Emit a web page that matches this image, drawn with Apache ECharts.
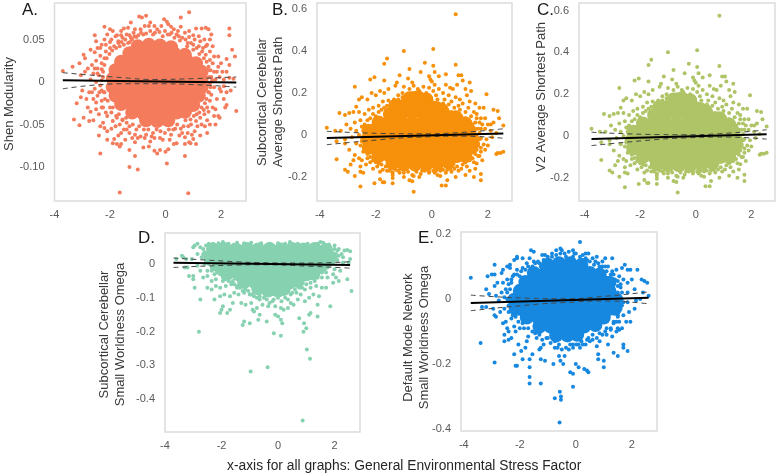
<!DOCTYPE html>
<html><head><meta charset="utf-8">
<style>html,body{margin:0;padding:0;background:#fff}#c{width:776px;height:475px}</style>
<script src="https://cdn.jsdelivr.net/npm/echarts@6/dist/echarts.min.js"></script>
</head><body><div id="c"></div>
<script>
// Panel A: Shen Modularity. Dense centre of cloud summarised by modularityCore.
const modularityCore = [
[-1.0,0.042],[-0.6,0.044],[-0.2,0.043],[0.2,0.041],[-1.3,0.034],[-0.9,0.033],[-0.5,0.034],[-0.1,0.033],[0.3,0.034],[0.7,0.032],
[-1.6,0.024],[-1.2,0.023],[-0.8,0.024],[-0.4,0.023],[0,0.024],[0.4,0.023],[0.8,0.024],[1.1,0.022],
[-1.8,0.014],[-1.4,0.013],[-1.0,0.014],[-0.6,0.013],[-0.2,0.014],[0.2,0.013],[0.6,0.014],[1.0,0.013],[1.3,0.012],
[-1.9,0.004],[-1.5,0.003],[-1.1,0.004],[-0.7,0.003],[-0.3,0.004],[0.1,0.003],[0.5,0.004],[0.9,0.003],[1.3,0.003],
[-1.9,-0.006],[-1.5,-0.007],[-1.1,-0.006],[-0.7,-0.007],[-0.3,-0.006],[0.1,-0.007],[0.5,-0.006],[0.9,-0.007],[1.3,-0.006],
[-1.8,-0.016],[-1.4,-0.017],[-1.0,-0.016],[-0.6,-0.017],[-0.2,-0.016],[0.2,-0.017],[0.6,-0.016],[1.0,-0.017],[1.2,-0.016],
[-1.6,-0.026],[-1.2,-0.027],[-0.8,-0.026],[-0.4,-0.027],[0,-0.026],[0.4,-0.027],[0.8,-0.026],[1.0,-0.027],
[-1.2,-0.036],[-0.8,-0.037],[-0.4,-0.036],[0,-0.037],[0.4,-0.036],[0.7,-0.035],
[-0.7,-0.045],[-0.3,-0.046],[0.1,-0.045]];
const modularityFringe = [
[0.85,0.082],[-0.95,0.077],[-0.85,0.076],[-0.7,0.078],[0.55,0.076],[-1.25,0.07],[-0.05,0.074],[0.05,0.071],[0.1,0.068],[-0.55,0.07],[-0.6,0.066],[-1.35,0.064],[-2.2,0.065],[-2.0,0.062],[-1.9,0.06],[-1.6,0.06],[-1.5,0.063],[-1.15,0.058],[-0.9,0.062],[-0.3,0.062],[0.3,0.062],[0.55,0.065],[0.7,0.058],[1.1,0.063],[1.3,0.063],[1.45,0.064],[1.55,0.062],[2.3,0.063],[2.3,0.055],[1.65,0.056],[1.6,0.05],[2.4,0.038],[2.5,0.03],[2.2,0.027],[1.9,0.03],
[-3.7,0.013],[-3.35,0.018],[-3.1,0.022],[-2.95,0.032],[-2.9,0.028],[-2.7,0.038],[-2.55,0.055],[-2.5,0.048],[-2.45,0.04],[-2.2,0.05],[-2.3,0.044],[-2.1,0.056],[-1.95,0.05],[-1.8,0.054],[-1.7,0.048],[-1.55,0.052],[-1.4,0.056],[-1.25,0.052],[-1.05,0.053],[-2.0,0.04],[-2.15,0.036],[-2.35,0.031],[-2.5,0.025],[-2.65,0.02],[-2.8,0.016],[-2.45,0.016],[-2.3,0.022],[-2.2,0.028],[-2.6,0.01],[-2.4,0.008],[-2.25,0.012],[-2.7,0.003],[-3.05,0.008],[-2.9,0.012],
[-1.85,0.042],[-1.65,0.042],[-1.5,0.044],[-1.35,0.046],[-0.8,0.056],[-0.45,0.056],[-0.1,0.054],[0.15,0.056],[0.4,0.056],[0.6,0.052],[0.85,0.053],[1.0,0.055],[1.2,0.054],[1.4,0.05],[0.8,0.046],[1.0,0.044],[1.2,0.042],[1.35,0.04],[1.5,0.044],[1.6,0.036],[1.45,0.032],[1.7,0.022],[1.6,0.026],[1.55,0.018],[1.75,0.012],[1.85,0.012],[2.05,0.012],[2.2,0.012],[1.65,0.006],[1.8,0.003],[1.95,0.006],[2.1,0.003],[2.3,0.005],[2.45,0.004],[1.6,-0.002],[1.75,-0.006],[1.95,-0.008],
[2.55,-0.034],[2.2,-0.027],[2.1,-0.02],[2.0,-0.011],[1.9,-0.04],[1.8,-0.05],[1.95,-0.042],[1.6,-0.05],[1.5,-0.045],[2.15,-0.03],[1.7,-0.03],[1.6,-0.022],[1.5,-0.03],[1.55,-0.012],[1.65,-0.015],[1.8,-0.032],[1.4,-0.038],[1.3,-0.03],[1.25,-0.042],[1.1,-0.046],[0.9,-0.044],[1.15,-0.052],[1.3,-0.05],
[-1.65,-0.13],[0.82,-0.131],[-1.3,-0.1],[-1.0,-0.103],[0.05,-0.096],[-1.1,-0.087],[-2.35,-0.084],[0.7,-0.087],[-0.3,-0.084],[-0.4,-0.081],[-0.2,-0.08],[0,-0.082],[0.1,-0.079],[-1.3,-0.08],[-1.65,-0.076],[-1.75,-0.073],[-1.9,-0.072],[-1.6,-0.073],[-2.4,-0.063],[-2.1,-0.068],[-1.85,-0.067],[-1.7,-0.063],[-1.6,-0.06],[-1.45,-0.068],[-1.1,-0.071],[-0.8,-0.077],[-0.6,-0.076],[-0.55,-0.07],[0.3,-0.073],[0.4,-0.072],[0.7,-0.073],[0.85,-0.071],[0.9,-0.072],[1.0,-0.067],[1.1,-0.073],[1.25,-0.063],[1.5,-0.06],[0.95,-0.062],[0.7,-0.065],[0.5,-0.063],
[-3.3,-0.044],[-3.1,-0.051],[-3.2,-0.025],[-3.05,-0.018],[-3.0,-0.01],[-2.95,-0.042],[-2.75,-0.046],[-2.6,-0.045],[-2.35,-0.052],[-2.25,-0.048],[-2.2,-0.054],[-2.1,-0.058],[-1.95,-0.055],[-1.8,-0.052],[-1.5,-0.056],[-1.3,-0.06],[-1.1,-0.062],[-0.9,-0.064],[-0.7,-0.062],[-0.4,-0.066],[-0.1,-0.068],[0.2,-0.062],[0.35,-0.055],[0.65,-0.052],
[-2.8,-0.03],[-2.7,-0.035],[-2.5,-0.032],[-2.4,-0.038],[-2.25,-0.03],[-2.1,-0.04],[-1.95,-0.036],[-1.75,-0.042],[-1.55,-0.044],[-1.4,-0.048],[-2.6,-0.02],[-2.45,-0.016],[-2.3,-0.022],[-2.2,-0.012],[-2.85,-0.02],[-2.55,-0.008],[-2.35,-0.004],[-2.75,-0.012],
[-2.25,0.006],[-2.3,0.015],[-2.2,0.02],[-2.12,0.028],[-2.02,0.033],[-1.92,0.037],[-1.78,0.04],[-1.7,0.046],[-1.58,0.047],[-1.45,0.05],[-1.28,0.047],[-1.2,0.05],[-1.12,0.054],[-0.98,0.055],[-0.88,0.058],[-0.7,0.057],[-0.55,0.06],[-0.38,0.058],[-0.22,0.059],[-0.02,0.06],[0.08,0.056],[0.22,0.058],[0.32,0.052],[0.48,0.054],[0.52,0.049],[0.72,0.05],[0.78,0.042],[0.92,0.046],[1.0,0.038],[1.12,0.04],[1.22,0.033],[1.32,0.036],[1.38,0.028],[1.48,0.024],[1.52,0.014],[1.62,0.014],[1.58,0.006],[1.68,0.002],
[1.62,-0.006],[1.56,-0.012],[1.48,-0.02],[1.42,-0.025],[1.38,-0.033],[1.22,-0.036],[1.12,-0.038],[1.02,-0.04],[0.92,-0.05],[0.82,-0.052],[0.72,-0.045],[0.55,-0.055],[0.42,-0.05],[0.28,-0.056],[0.12,-0.056],[-0.02,-0.06],[-0.18,-0.058],[-0.32,-0.056],[-0.45,-0.06],[-0.62,-0.056],[-0.78,-0.056],[-0.95,-0.052],[-1.05,-0.056],[-1.18,-0.05],[-1.3,-0.052],[-1.42,-0.042],[-1.55,-0.045],[-1.68,-0.038],[-1.78,-0.04],[-1.9,-0.03],[-2.0,-0.03],[-2.08,-0.022],[-2.18,-0.02],[-2.22,-0.012],[-2.3,-0.01],[-2.38,-0.012],[-2.3,0.002],
[-2.55,0.035],[-2.35,0.04],[-2.15,0.044],[-2.0,0.047],[-1.75,0.055],[-1.6,0.055],[-1.3,0.055],[-1.1,0.062],[-0.75,0.066],[-0.4,0.066],[-0.15,0.066],[0.2,0.065],[0.45,0.06],[0.85,0.06],[1.05,0.05],[1.25,0.048],[1.45,0.042],[1.7,0.042],[1.75,0.03],[1.9,0.018],[2.0,0.022],[2.3,0.02],[2.1,-0.005],[2.2,-0.012],[2.35,-0.01],[1.85,-0.02],[1.75,-0.04],[1.55,-0.035],[1.42,-0.052],[1.05,-0.058],[0.8,-0.06],[0.6,-0.06],[0.15,-0.068],[-0.2,-0.066],[-0.5,-0.064],[-0.75,-0.066],[-1.0,-0.066],[-1.2,-0.066],[-1.4,-0.056],[-1.65,-0.05],[-1.9,-0.046],[-2.15,-0.036],[-2.3,-0.03],[-2.5,-0.024],[-2.65,-0.012],[-2.5,0.0],[-2.45,0.01],[-2.55,0.016]];
const modularityFit = [[-3.7,0.002],[2.55,-0.0005]];
const modularityHigh = [[-3.7,0.011],[-1.5,0.005],[-0.4,0.003],[1,0.004],[2.55,0.006]];
const modularityLow = [[-3.7,-0.008],[-1.5,-0.002],[-0.4,-0.002],[1,-0.003],[2.55,-0.006]];

// Panels B and C: average shortest path. Both panels show the same cloud.
const pathCore = [
[-0.8,0.175],[-0.5,0.18],[-0.2,0.17],
[-1.3,0.14],[-1.0,0.14],[-0.6,0.15],[-0.2,0.14],[0.1,0.13],[0.35,0.12],
[-1.5,0.1],[-1.1,0.1],[-0.7,0.11],[-0.3,0.1],[0.1,0.1],[0.5,0.09],[0.85,0.085],
[-1.9,0.06],[-1.5,0.06],[-1.1,0.06],[-0.7,0.06],[-0.3,0.06],[0.1,0.06],[0.5,0.06],[0.9,0.06],[1.2,0.055],
[-2.25,0.02],[-2.1,0.02],[-1.7,0.02],[-1.3,0.02],[-0.9,0.02],[-0.5,0.02],[-0.1,0.02],[0.3,0.02],[0.7,0.02],[1.1,0.02],[1.35,0.02],
[-2.3,-0.02],[-2.15,-0.02],[-1.75,-0.02],[-1.35,-0.02],[-0.95,-0.02],[-0.55,-0.02],[-0.15,-0.02],[0.25,-0.02],[0.65,-0.02],[1.05,-0.02],[1.45,-0.02],
[-2.25,-0.06],[-2.1,-0.06],[-1.7,-0.06],[-1.3,-0.06],[-0.9,-0.06],[-0.5,-0.06],[-0.1,-0.06],[0.3,-0.06],[0.7,-0.06],[1.1,-0.06],[1.4,-0.06],
[-1.9,-0.1],[-1.5,-0.1],[-1.1,-0.1],[-0.7,-0.1],[-0.3,-0.1],[0.1,-0.1],[0.5,-0.1],[0.9,-0.1],[1.2,-0.1],
[-1.4,-0.135],[-1.0,-0.14],[-0.6,-0.14],[-0.2,-0.14],[0.2,-0.135],[0.6,-0.13]];
const pathFringe = [
[0.85,0.575],[-1.0,0.4],[0.05,0.41],[-1.6,0.365],[-1.7,0.34],[0.85,0.335],[-0.25,0.345],[0.05,0.33],[-0.8,0.315],[0.1,0.3],[-0.4,0.3],[0.5,0.29],[-1.7,0.26],[-2.05,0.275],[-2.2,0.265],[-2.75,0.23],[-1.15,0.285],[-0.85,0.27],[-1.25,0.25],[-0.7,0.25],[-0.65,0.235],[-0.1,0.28],[-0.05,0.265],[0,0.255],[0.1,0.24],[0.25,0.28],[0.5,0.24],[0.65,0.225],[0.95,0.285],[1.05,0.285],[1.1,0.26],[1.35,0.25],[1.2,0.22],[0.75,0.22],[0.9,0.24],[1.4,0.21],[1.95,0.195],[2.2,0.12],[2.35,0.115],[2.4,0.08],[2.2,0.06],[2.1,0.05],[2.55,0.045],
[-1.3,0.235],[-1.0,0.23],[-0.8,0.22],[-0.5,0.22],[-0.3,0.23],[-0.1,0.225],[0.05,0.21],[0.25,0.22],[0.4,0.2],[0.6,0.19],[0.85,0.18],[1.0,0.17],[1.25,0.19],[1.35,0.16],[1.55,0.15],[1.7,0.13],[1.85,0.13],[1.6,0.1],[1.75,0.08],[1.9,0.08],[2.0,0.05],[1.7,0.06],[1.9,0.03],[1.75,0.03],[2.1,0.02],[2.3,0.01],
[-1.55,0.22],[-1.7,0.2],[-1.85,0.21],[-2.0,0.19],[-2.15,0.2],[-2.3,0.17],[-2.5,0.18],[-2.6,0.17],[-2.7,0.135],[-2.6,0.11],[-2.8,0.11],[-2.95,0.105],[-3.1,0.095],[-3.3,0.105],[-3.05,0.05],[-3.75,0.035],[-3.45,0.02],[-3.25,0.02],[-2.9,0.03],[-2.75,0.06],[-2.55,0.07],[-2.4,0.1],[-2.25,0.12],[-2.1,0.13],[-1.9,0.14],[-1.75,0.16],[-1.55,0.165],[-1.35,0.17],[-1.2,0.19],[-1.05,0.2],[-0.85,0.195],[-0.6,0.2],[-0.4,0.19],[-0.2,0.2],[-0.05,0.18],[0.2,0.17],[0.4,0.15],[0.6,0.145],[0.8,0.13],[1.0,0.12],[1.2,0.11],[1.4,0.09],[1.55,0.06],
[-2.5,0.04],[-2.6,0.0],[-2.7,0.02],[-2.85,-0.01],[-3.1,-0.02],[-3.4,-0.03],[-3.1,-0.04],[-2.95,-0.07],[-2.7,-0.04],[-2.55,-0.05],[-2.45,-0.08],[-3.4,-0.115],[-2.75,-0.095],[-2.8,-0.12],[-2.6,-0.11],[-2.5,-0.12],[-3.1,-0.165],[-3.0,-0.175],[-2.9,-0.14],[-2.55,-0.15],[-2.55,-0.175],[-2.45,-0.18],[-2.75,-0.195],[-2.35,-0.14],[-2.3,-0.11],[-2.2,-0.13],[-2.1,-0.16],[-1.95,-0.15],[-1.85,-0.175],[-1.9,-0.135],[-1.75,-0.165],[-1.6,-0.17],[-1.4,-0.18],[-1.2,-0.17],
[-2.55,-0.245],[-0.65,-0.27],[-2.05,-0.23],[-1.85,-0.21],[-1.7,-0.225],[-1.75,-0.225],[-1.4,-0.205],[-1.4,-0.23],[-1.4,-0.19],[-1.0,-0.2],[-0.8,-0.215],[-0.7,-0.22],[-0.65,-0.195],[-0.45,-0.2],[-0.35,-0.17],[-0.1,-0.175],[0.1,-0.18],[0.2,-0.19],[0.3,-0.195],[0.35,-0.24],[0.5,-0.24],[0.55,-0.215],[0.5,-0.18],[0.7,-0.175],[0.85,-0.2],[0.95,-0.17],[1.2,-0.19],[1.35,-0.17],[1.25,-0.15],[1.5,-0.2],[1.55,-0.16],[1.6,-0.135],[1.75,-0.215],[1.75,-0.185],[1.8,-0.12],[1.9,-0.07],[2.0,-0.05],
[2.3,-0.09],[2.35,-0.085],[2.45,-0.085],[2.55,-0.08],[1.65,-0.1],[1.75,-0.08],[1.85,-0.045],[1.65,-0.05],[1.95,-0.02],[2.15,-0.01],[1.75,-0.015],
[-2.45,0.02],[-2.4,0.05],[-2.3,0.07],[-2.2,0.08],[-2.1,0.1],[-2,0.09],[-1.9,0.11],[-1.8,0.12],[-1.7,0.13],[-1.6,0.14],[-1.45,0.15],[-1.3,0.15],[-1.45,0.13],[-1.2,0.17],[-1.05,0.18],[-0.95,0.17],[-0.8,0.18],[-0.7,0.2],[-0.55,0.185],[-0.45,0.21],[-0.3,0.18],[-0.2,0.17],[-0.1,0.19],[0,0.16],[0.15,0.19],[0.25,0.15],[0.35,0.13],[0.45,0.17],[0.55,0.12],[0.7,0.16],[0.7,0.11],[0.85,0.1],[0.95,0.14],[1.05,0.09],[1.1,0.15],[1.2,0.08],[1.3,0.13],[1.35,0.06],[1.45,0.05],[1.5,0.11],[1.55,0.03],[1.65,0.03],[1.6,0.08],[1.7,0.01],[1.8,0.05],
[1.7,-0.02],[1.65,-0.04],[1.75,-0.06],[1.6,-0.07],[1.55,-0.09],[1.7,-0.1],[1.45,-0.11],[1.35,-0.12],[1.5,-0.13],[1.2,-0.13],[1.1,-0.14],[1.05,-0.16],[0.9,-0.15],[0.8,-0.16],[0.65,-0.16],[0.55,-0.165],[0.4,-0.165],[0.3,-0.17],[0.15,-0.17],[0.05,-0.17],[-0.1,-0.18],[-0.25,-0.17],[-0.4,-0.185],[-0.55,-0.175],[-0.7,-0.19],[-0.85,-0.175],[-1.0,-0.18],[-1.15,-0.18],[-1.3,-0.165],[-1.5,-0.17],[-1.65,-0.15],[-1.8,-0.14],[-2.0,-0.13],[-2.1,-0.12],[-2.2,-0.105],[-2.3,-0.09],[-2.4,-0.06],[-2.5,-0.03],[-2.45,-0.01],[-2.35,-0.05]];
const pathFit = [[-3.75,-0.014],[2.55,0.008]];
const pathHigh = [[-3.75,0.018],[-1.5,0.007],[-0.5,0.006],[1,0.012],[2.55,0.03]];
const pathLow = [[-3.75,-0.046],[-1.5,-0.018],[-0.5,-0.01],[1,-0.005],[2.55,-0.015]];

// Panel D: subcortical cerebellar omega
const omegaSubCore = [
[-2.3,0.043],[-1.9,0.045],[-1.5,0.043],[-1.1,0.045],[-0.7,0.043],[-0.3,0.045],[0.1,0.043],[0.5,0.045],[0.9,0.043],[1.3,0.045],[1.7,0.042],
[-2.4,0.02],[-2.0,0.02],[-1.6,0.02],[-1.2,0.02],[-0.8,0.02],[-0.4,0.02],[0,0.02],[0.4,0.02],[0.8,0.02],[1.2,0.02],[1.6,0.02],[1.85,0.02],
[-2.1,-0.005],[-1.7,-0.005],[-1.3,-0.005],[-0.9,-0.005],[-0.5,-0.005],[-0.1,-0.005],[0.3,-0.005],[0.7,-0.005],[1.1,-0.005],[1.5,-0.005],
[-1.8,-0.028],[-1.4,-0.03],[-1.0,-0.03],[-0.6,-0.03],[-0.2,-0.03],[0.2,-0.03],[0.6,-0.03],[1.0,-0.03],[1.25,-0.028],
[-1.2,-0.053],[-0.8,-0.055],[-0.4,-0.055],[0,-0.055],[0.4,-0.055],[0.7,-0.05],
[-0.7,-0.072],[-0.35,-0.078],[0,-0.078],[0.2,-0.074]];
const omegaSubFringe = [
[0.87,-0.463],[-0.37,-0.305],[-0.97,-0.318],[1.02,-0.253],[1.13,-0.28],[0.1,-0.212],[-0.15,-0.205],[-2.8,-0.2],[0.9,-0.2],[1.0,-0.19],[0.92,-0.175],[0.75,-0.16],[-1.25,-0.18],[-1.2,-0.17],[-1.0,-0.175],[-0.7,-0.165],[-0.4,-0.17],[-0.1,-0.15],[0,-0.155],[0.1,-0.165],[0.15,-0.175],[1.15,-0.145],[1.1,-0.15],[1.4,-0.155],[1.85,-0.125],[2.6,-0.08],[-2.75,-0.105],[-2.95,-0.07],
[-2.05,-0.145],[-1.95,-0.125],[-2.0,-0.135],[-1.8,-0.145],[-1.7,-0.135],[-1.6,-0.115],[-1.3,-0.115],[-1.15,-0.12],[-0.95,-0.115],[-0.9,-0.135],[-0.85,-0.14],[-0.75,-0.13],[-0.65,-0.15],[-0.55,-0.12],[-0.35,-0.125],[-0.2,-0.11],[-0.1,-0.125],[0.1,-0.13],[0.2,-0.135],[0.35,-0.13],[0.45,-0.115],[0.55,-0.12],[0.7,-0.105],[0.95,-0.11],[1.1,-0.1],[1.4,-0.12],[1.45,-0.095],[1.25,-0.09],[0.8,-0.09],
[-2.25,-0.105],[-2.05,-0.095],[-1.9,-0.09],[-1.7,-0.095],[-1.55,-0.085],[-1.4,-0.09],[-1.2,-0.085],[-1.0,-0.09],[-0.85,-0.085],[-0.65,-0.095],[0.45,-0.09],[0.65,-0.085],[0.95,-0.075],[1.15,-0.07],[1.35,-0.065],[1.55,-0.07],[1.7,-0.07],
[-2.5,-0.07],[-2.35,-0.075],[-2.2,-0.065],[-2.05,-0.07],[-1.85,-0.065],[-1.65,-0.06],[-1.45,-0.07],[-1.6,-0.05],[-1.95,-0.05],[-2.2,-0.045],[-2.35,-0.05],[-2.5,-0.035],[-2.65,-0.04],[-3.15,-0.035],[-3.0,-0.045],[-3.0,-0.035],[-2.75,-0.02],[-2.5,-0.02],[-2.85,-0.005],[-3.2,-0.01],[-3.05,0.015],[-3.35,0.02],[-3.6,0.015],[-3.3,-0.01],[-2.6,0.0],[-2.35,-0.02],[-2.25,-0.03],
[-3.4,0.025],[-3.25,0.015],[-3.0,0.05],[-2.95,0.055],[-2.85,0.06],[-2.75,0.05],[-2.6,0.035],[-2.85,0.03],[-2.7,0.02],[-2.55,0.055],[-2.45,0.06],[-2.3,0.06],[-2.1,0.062],[-1.95,0.065],[-1.75,0.06],[-1.45,0.063],[-1.2,0.062],[-0.95,0.063],[-0.6,0.062],[-0.3,0.06],[0,0.062],[0.25,0.06],[0.42,0.065],[0.7,0.06],[1.05,0.06],[1.4,0.06],[1.5,0.065],[1.6,0.063],[1.8,0.058],[2.0,0.055],
[2.15,0.045],[2.35,0.04],[2.45,0.042],[2.55,0.038],[2.25,0.03],[2.05,0.03],[2.3,0.02],[2.55,0.015],[2.1,0.012],[2.3,0.005],[2.5,0.005],[1.95,0.005],[1.8,-0.005],[2.0,-0.015],[2.2,-0.02],[2.45,-0.045],[2.15,-0.05],[1.95,-0.055],[1.75,-0.04],[1.55,-0.04],[1.95,-0.03],[1.7,-0.025],[2.05,-0.04],
[-2.45,0.0],[-2.35,-0.01],[-2.25,-0.015],[-2.15,-0.025],[-2.05,-0.03],[-1.95,-0.04],[-1.85,-0.045],[-1.75,-0.05],[-1.65,-0.055],[-1.55,-0.06],[-1.45,-0.065],[-1.35,-0.07],[-1.25,-0.08],[-1.15,-0.075],[-1.05,-0.08],[-0.95,-0.09],[-0.85,-0.095],[-0.75,-0.1],[-0.65,-0.105],[-0.5,-0.1],[-0.4,-0.105],[-0.3,-0.115],[-0.15,-0.105],[0,-0.1],[0.12,-0.11],[0.25,-0.1],[0.35,-0.105],[0.5,-0.085],[0.6,-0.075],[0.75,-0.07],[0.85,-0.07],[1,-0.06],[1.15,-0.055],[1.3,-0.05],[1.4,-0.04],[1.55,-0.025],[1.65,-0.015],[1.75,-0.01],[1.85,0.0],[1.95,0.01],[2.05,0.015],[2.15,0.025],[2.1,0.04],[2.0,0.045],[-2.55,0.01],[-2.65,0.03],[-2.65,0.045]];
const omegaSubFit = [[-3.7,0.004],[2.55,-0.003]];
const omegaSubHigh = [[-3.7,0.018],[-1.5,0.007],[-0.5,0.004],[1,0.003],[2.55,0.007]];
const omegaSubLow = [[-3.7,-0.01],[-1.5,-0.003],[-0.5,-0.002],[1,-0.006],[2.55,-0.012]];

// Panel E: default mode network omega
const omegaDmnCore = [
[-1.0,0.105],[-0.6,0.11],[-0.2,0.11],[0.2,0.105],
[-1.5,0.08],[-1.1,0.08],[-0.7,0.08],[-0.3,0.08],[0.1,0.08],[0.5,0.08],[0.85,0.075],
[-1.8,0.052],[-1.4,0.052],[-1.0,0.052],[-0.6,0.052],[-0.2,0.052],[0.2,0.052],[0.6,0.052],[1.0,0.052],[1.2,0.05],
[-2.0,0.025],[-1.6,0.025],[-1.2,0.025],[-0.8,0.025],[-0.4,0.025],[0,0.025],[0.4,0.025],[0.8,0.025],[1.2,0.025],
[-2.2,-0.002],[-2.05,-0.002],[-1.65,-0.002],[-1.25,-0.002],[-0.85,-0.002],[-0.45,-0.002],[-0.05,-0.002],[0.35,-0.002],[0.75,-0.002],[1.15,-0.002],[1.45,-0.002],
[-2.15,-0.03],[-2.0,-0.03],[-1.6,-0.03],[-1.2,-0.03],[-0.8,-0.03],[-0.4,-0.03],[0,-0.03],[0.4,-0.03],[0.8,-0.03],[1.2,-0.03],[1.4,-0.03],
[-1.75,-0.057],[-1.35,-0.057],[-0.95,-0.057],[-0.55,-0.057],[-0.15,-0.057],[0.25,-0.057],[0.65,-0.057],[1.0,-0.057],
[-1.3,-0.085],[-0.9,-0.085],[-0.5,-0.085],[-0.1,-0.085],[0.3,-0.085],[0.7,-0.08],
[-0.7,-0.112],[-0.3,-0.112],[0.05,-0.11]];
const omegaDmnFringe = [
[0.15,0.175],[-1.6,0.15],[-1.5,0.145],[-0.7,0.15],[-0.5,0.15],[-0.55,0.155],[-0.1,0.15],[-0.05,0.14],[0.35,0.14],[0.45,0.14],[0.75,0.13],[-1.2,0.135],[-1.1,0.135],[-2.1,0.125],[-2.1,0.13],[-1.9,0.125],[-1.65,0.125],[-2.2,0.12],[-0.85,0.13],[-0.35,0.13],[1.05,0.125],[1.3,0.125],[1.75,0.105],[1.65,0.095],[2.2,0.09],[1.95,0.09],[1.85,0.09],[-2.35,0.095],[-2.45,0.1],[-2.9,0.105],[-2.35,0.105],[-3.75,0.065],[-3.2,0.03],[-3.15,0.07],[-3.0,0.075],[-2.9,0.075],[-2.65,0.08],[-2.6,0.09],[-2.8,0.05],[-3.1,0.015],[-2.9,0.04],
[-1.75,0.11],[-1.5,0.115],[-1.3,0.11],[-1.25,0.1],[0.4,0.12],[0.65,0.105],[0.85,0.1],[0.95,0.115],[1.15,0.1],[1.3,0.085],[1.45,0.09],[1.55,0.07],[1.7,0.06],[1.85,0.05],[2.0,0.06],[2.1,0.03],[2.35,0.06],[2.45,0.055],[2.55,0.05],[1.6,0.045],[1.5,0.02],[1.65,0.02],[1.85,0.02],[2.4,0.02],[2.6,0.01],[2.3,0],[2.15,-0.005],[1.7,-0.01],[1.85,-0.01],
[-2.1,0.09],[-1.9,0.095],[-2.25,0.07],[-2.45,0.06],[-2.6,0.05],[-2.5,0.03],[-2.35,0.03],[-2.3,0.05],[-2.65,0.02],[-2.85,0.01],[-2.55,0.005],[-2.4,-0.005],[-2.75,-0.005],[-3.2,-0.025],[-3.35,-0.025],[-2.95,-0.03],[-2.9,-0.05],[-2.85,-0.055],[-2.7,-0.04],[-2.55,-0.03],[-2.4,-0.04],[-2.5,-0.07],[-2.6,-0.075],[-2.45,-0.09],[-2.3,-0.06],[-2.2,-0.085],[-2.4,-0.1],[-2.55,-0.11],[-2.55,-0.13],[-2.4,-0.125],[-2.3,-0.12],[-2.15,-0.1],[-2.0,-0.09],[-3.4,-0.135],[-2.9,-0.195],
[-2.15,-0.205],[-2.1,-0.205],[-2.2,-0.17],[-2.05,-0.14],[-1.95,-0.16],[-1.9,-0.185],[-1.8,-0.15],[-1.75,-0.13],[-1.7,-0.115],[-1.65,-0.185],[-1.65,-0.21],[-1.55,-0.17],[-1.4,-0.12],[-1.3,-0.11],[-1.25,-0.15],[-1.15,-0.14],[-1.0,-0.12],[-1.1,-0.19],[-1.25,-0.185],[-1.3,-0.155],[-0.8,-0.2],[-0.75,-0.15],[-0.65,-0.15],[-0.6,-0.175],[-0.55,-0.19],[-0.45,-0.2],[-0.4,-0.175],[-0.25,-0.155],[-0.1,-0.14],[0,-0.2],[0.1,-0.14],[0.2,-0.13],[0.35,-0.14],[0.45,-0.12],[0.6,-0.11],[0.75,-0.145],[0.8,-0.17],[0.8,-0.185],[1.0,-0.19],[1.0,-0.21],[1.15,-0.14],[1.3,-0.115],[1.35,-0.165],[1.5,-0.175],[1.7,-0.14],[1.7,-0.15],[1.85,-0.16],
[-1.65,-0.24],[-1.65,-0.26],[-1.25,-0.26],[-0.75,-0.305],[-0.57,-0.285],[-0.53,-0.3],[-0.53,-0.31],[-0.58,-0.38],[-0.1,-0.27],[-0.2,-0.225],[-0.1,-0.23],[0.1,-0.21],[0.3,-0.215],[0.4,-0.22],[0.45,-0.225],
[0.85,-0.13],[1.1,-0.11],[1.45,-0.1],[1.5,-0.09],[1.65,-0.09],[1.55,-0.07],[1.8,-0.07],[1.95,-0.07],[1.7,-0.05],[1.5,-0.05],[1.9,-0.04],[2.1,-0.03],[1.6,-0.03],[1.55,-0.095],[1.25,-0.09],[1.35,-0.07],
[-2.45,0.02],[-2.4,0.045],[-2.3,0.06],[-2.2,0.075],[-2.1,0.075],[-2.0,0.07],[-1.95,0.085],[-1.8,0.09],[-1.7,0.1],[-1.55,0.1],[-1.45,0.11],[-1.35,0.115],[-1.15,0.12],[-1.0,0.13],[-0.85,0.14],[-0.7,0.135],[-0.55,0.14],[-0.4,0.14],[-0.25,0.145],[-0.1,0.13],[0,0.14],[0.15,0.13],[0.25,0.135],[0.35,0.125],[0.5,0.115],[0.6,0.125],[0.7,0.115],[0.8,0.11],[0.95,0.1],[1.05,0.1],[1.1,0.085],[1.25,0.075],[1.35,0.075],[1.4,0.06],[1.5,0.055],[1.5,0.04],[1.6,0.035],[1.55,0.01],[1.6,0.0],[1.65,-0.02],
[1.55,-0.035],[1.5,-0.055],[1.45,-0.07],[1.35,-0.075],[1.25,-0.095],[1.1,-0.09],[1.05,-0.1],[0.95,-0.11],[0.85,-0.105],[0.75,-0.12],[0.6,-0.125],[0.5,-0.13],[0.4,-0.125],[0.25,-0.14],[0.15,-0.15],[0.02,-0.14],[-0.1,-0.15],[-0.2,-0.14],[-0.35,-0.15],[-0.5,-0.155],[-0.6,-0.14],[-0.75,-0.13],[-0.9,-0.135],[-1.05,-0.12],[-1.2,-0.125],[-1.3,-0.105],[-1.45,-0.105],[-1.55,-0.1],[-1.7,-0.09],[-1.85,-0.09],[-1.9,-0.075],[-2.05,-0.07],[-2.15,-0.055],[-2.25,-0.05],[-2.3,-0.03],[-2.4,-0.02],[-2.45,0.0]];
const omegaDmnFit = [[-3.75,-0.012],[2.6,0.004]];
const omegaDmnHigh = [[-3.75,0.012],[-1.5,0.002],[-0.4,0.001],[1,0.008],[2.6,0.022]];
const omegaDmnLow = [[-3.75,-0.036],[-1.5,-0.017],[-0.4,-0.011],[1,-0.006],[2.6,-0.015]];

const xTicks = [-4,-2,0,2];
const panels = [
 {letter:'A.',lx:22,ly:2,name:'Shen Modularity',nameGap:37.5,shift:2,rect:[53,3,193,198],x:[-4,2.9],y:[-0.14,0.093],ticks:[0.05,0,-0.05,-0.10],dec:2,color:'#F47C5C',core:modularityCore,fringe:modularityFringe,fit:modularityFit,hi:modularityHigh,lo:modularityLow},
 {letter:'B.',lx:272,ly:2,name:'Subcortical Cerebellar\nAverage Shortest Path',nameGap:30.5,shift:0,rect:[317,3,195,198],x:[-4.1,2.86],y:[-0.314,0.629],ticks:[0.6,0.4,0.2,0,-0.2],dec:1,color:'#F7900A',core:pathCore,fringe:pathFringe,fit:pathFit,hi:pathHigh,lo:pathLow},
 {letter:'C.',lx:537,ly:2,name:'V2 Average Shortest Path',nameGap:30,shift:-5,rect:[579,3,196,198],x:[-4.2,2.85],y:[-0.311,0.636],ticks:[0.6,0.4,0.2,0,-0.2],dec:1,color:'#AEC466',core:pathCore,fringe:pathFringe,fit:pathFit,hi:pathHigh,lo:pathLow},
 {letter:'D.',lx:138,ly:230,name:'Subcortical Cerebellar\nSmall Worldness Omega',nameGap:36.5,shift:2,rect:[165,233,195,199],x:[-4,2.9],y:[-0.497,0.092],ticks:[0,-0.1,-0.2,-0.3,-0.4],dec:1,color:'#86D1B0',core:omegaSubCore,fringe:omegaSubFringe,fit:omegaSubFit,hi:omegaSubHigh,lo:omegaSubLow},
 {letter:'E.',lx:418,ly:230,name:'Default Mode Network\nSmall Worldness Omega',nameGap:28.5,shift:6,rect:[461,232,196,199],x:[-4.1,2.9],y:[-0.406,0.206],ticks:[0.2,0,-0.2,-0.4],dec:1,color:'#1788E0',core:omegaDmnCore,fringe:omegaDmnFringe,fit:omegaDmnFit,hi:omegaDmnHigh,lo:omegaDmnLow}
];
const FONT = '"Liberation Sans", Arial, sans-serif';
const option = {animation:false,backgroundColor:'#fff',
 title:[...panels.map(p=>({text:p.letter,left:p.lx,top:p.ly,padding:0,textStyle:{fontFamily:FONT,fontSize:17,fontWeight:'normal',color:'#1a1a1a'}})),
  {text:'x-axis for all graphs: General Environmental Stress Factor',left:227,top:459,padding:0,textStyle:{fontFamily:FONT,fontSize:13.8,fontWeight:'normal',color:'#262626'}}],
 grid:[],xAxis:[],yAxis:[],series:[]};
panels.forEach((p,i)=>{
 option.grid.push({left:p.rect[0],top:p.rect[1],width:p.rect[2],height:p.rect[3],show:true,borderColor:'#dcdcdc',borderWidth:1.5,backgroundColor:'#fff'});
 option.xAxis.push({type:'value',gridIndex:i,min:p.x[0],max:p.x[1],splitLine:{show:false},axisLine:{show:false},axisTick:{show:false},
  axisLabel:{customValues:xTicks,formatter:v=>String(v),fontFamily:FONT,fontSize:11,color:'#595959',margin:8}});
 option.yAxis.push({type:'value',gridIndex:i,min:p.y[0],max:p.y[1],splitLine:{show:false},axisLine:{show:false},axisTick:{show:false},
  name:p.name,nameLocation:'middle',nameRotate:90,nameGap:p.nameGap,nameMoveOverlap:false,
  nameTextStyle:{fontFamily:FONT,fontSize:13,color:'#3a3a3a',lineHeight:16,padding:p.shift>=0?[0,p.shift*2,0,0]:[0,0,0,-p.shift*2]},
  axisLabel:{customValues:p.ticks,formatter:v=>v===0?'0':v.toFixed(p.dec),fontFamily:FONT,fontSize:11,color:'#595959',margin:10}});
 const base={xAxisIndex:i,yAxisIndex:i,silent:true};
 option.series.push({...base,type:'scatter',name:p.letter+' core',data:p.core,symbolSize:14,itemStyle:{color:p.color,opacity:1},z:2});
 option.series.push({...base,type:'scatter',name:p.letter+' points',data:p.fringe,symbolSize:4,itemStyle:{color:p.color,opacity:1},z:3});
 option.series.push({...base,type:'line',data:p.hi,showSymbol:false,smooth:true,lineStyle:{color:'#444',width:1,type:[5,4]},z:4});
 option.series.push({...base,type:'line',data:p.lo,showSymbol:false,smooth:true,lineStyle:{color:'#444',width:1,type:[5,4]},z:4});
 option.series.push({...base,type:'line',data:p.fit,showSymbol:false,lineStyle:{color:'#000',width:2},z:5});
});
const chart=echarts.init(document.getElementById('c'),null,{renderer:'canvas'});
chart.setOption(option);
</script></body></html>
